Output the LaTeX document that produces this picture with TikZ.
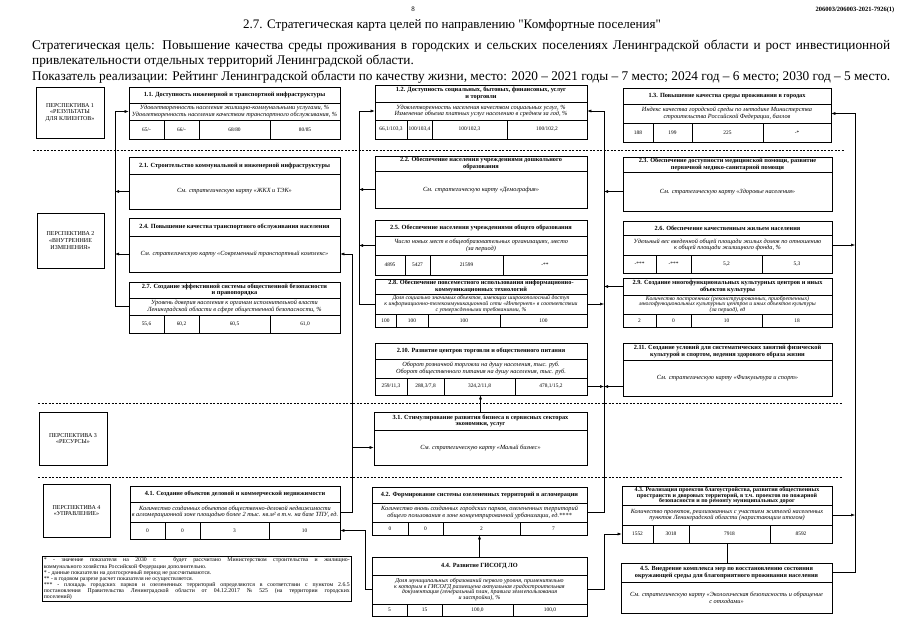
\documentclass[tikz,border=0pt]{standalone}
\usepackage{fontspec}
\setmainfont{Liberation Serif}
\newfontfamily\rawserif{Liberation Serif}
\usetikzlibrary{arrows.meta,fit,calc}

\begin{document}
\begin{tikzpicture}[
  x=1pt,y=-1pt,
  >={Latex[length=4pt,width=3pt]},
  goal/.style={draw,line width=0.6pt,inner sep=0pt},
  persp/.style={draw,line width=0.6pt,align=center,inner sep=0pt,font=\fontsize{6}{6.6}\selectfont},
  gtitle/.style={align=center,inner sep=0pt,font=\fontsize{6.3}{6.4}\selectfont\bfseries},
  gind/.style={align=center,inner sep=0pt,font=\fontsize{6.3}{6.2}\selectfont\itshape},
  gbody/.style={align=center,inner sep=0pt,font=\fontsize{6.3}{7}\selectfont\itshape},
  gval/.style={inner sep=0pt,font=\fontsize{5.4}{6}\selectfont},
  rowline/.style={line width=0.5pt},
  sepline/.style={line width=0.5pt,dash pattern=on 2pt off 1.5pt},
  link/.style={->,line width=0.5pt},
  plain/.style={line width=0.5pt}
]
\fill[white] (0,0) rectangle (905,640);
\useasboundingbox (0,0) rectangle (905,640);

% header
\node[font=\fontsize{7}{8}\selectfont] (pgno) at (413,9) {8};
\node[font=\fontsize{6.5}{7}\selectfont\bfseries] (docid) at (855,10) {206003/206003-2021-7926(1)};
\node[font=\fontsize{13}{14}\rawserif] (maptitle) at (452,25)
  {2.7. Стратегическая карта целей по направлению "Комфортные поселения"};
\node[anchor=west,inner sep=0pt,font=\fontsize{13.3}{15}\selectfont] (goal1) at (32,46)
  {\makebox[858pt][s]{Стратегическая цель: Повышение качества среды проживания в городских и сельских поселениях Ленинградской области и рост инвестиционной}};
\node[anchor=west,inner sep=0pt,font=\fontsize{13.3}{15}\selectfont] (goal2) at (32,61)
  {привлекательности отдельных территорий Ленинградской области.};
\node[anchor=west,inner sep=0pt,font=\fontsize{13.3}{15}\selectfont] (kpi) at (32,77)
  {\makebox[858pt][s]{Показатель реализации: Рейтинг Ленинградской области по качеству жизни, место: 2020 – 2021 годы – 7 место; 2024 год – 6 место; 2030 год – 5 место.}};

% perspectives
\node[persp,minimum width=68pt,minimum height=51pt] (p1) at (70,112.5) {ПЕРСПЕКТИВА 1\\«РЕЗУЛЬТАТЫ\\ДЛЯ КЛИЕНТОВ»};
\node[persp,minimum width=67pt,minimum height=55pt] (p2) at (70.5,240.5) {ПЕРСПЕКТИВА 2\\«ВНУТРЕННИЕ\\ИЗМЕНЕНИЯ»};
\node[persp,minimum width=68pt,minimum height=53pt] (p3) at (73,438.5) {ПЕРСПЕКТИВА 3\\«РЕСУРСЫ»};
\node[persp,minimum width=67pt,minimum height=53pt] (p4) at (76.5,510.5) {ПЕРСПЕКТИВА 4\\«УПРАВЛЕНИЕ»};

\draw[sepline] (33,150) -- (845,150);
\draw[sepline] (38,403) -- (842,403);
\draw[sepline] (38,477) -- (842,477);

% 1.1
\node[goal,fit={(129,87)(340,139)}] (g11) {};
\draw[rowline] (129,103) -- (340,103) (129,120) -- (340,120)
  (164,120) -- (164,139) (199,120) -- (199,139) (270,120) -- (270,139);
\node[gtitle] (g11t) at (234.5,95) {1.1. Доступность инженерной и транспортной инфраструктуры};
\node[gind] (g11i) at (234.5,111.5) {Удовлетворенность населения жилищно-коммунальными услугами, \%\\Удовлетворенность населения качеством транспортного обслуживания, \%};
\node[gval] (g11v1) at (146.5,129.5) {65/-};
\node[gval] (g11v2) at (181.5,129.5) {66/-};
\node[gval] (g11v3) at (234.5,129.5) {68/80};
\node[gval] (g11v4) at (305,129.5) {80/85};

% 1.2
\node[goal,fit={(375,85)(587,139)}] (g12) {};
\draw[rowline] (375,102) -- (587,102) (375,120) -- (587,120)
  (407,120) -- (407,139) (432,120) -- (432,139) (507,120) -- (507,139);
\node[gtitle] (g12t) at (481,93.5) {1.2. Доступность социальных, бытовых, финансовых, услуг\\и торговли};
\node[gind] (g12i) at (481,111) {Удовлетворенность населения качеством социальных услуг, \%\\Изменение объема платных услуг населению в среднем за год, \%};
\node[gval] (g12v1) at (391,129.5) {66,1/103,3};
\node[gval] (g12v2) at (419.5,129.5) {100/103,4};
\node[gval] (g12v3) at (469.5,129.5) {100/102,3};
\node[gval] (g12v4) at (547,129.5) {100/102,2};

% 1.3
\node[goal,fit={(623,88)(831,142)}] (g13) {};
\draw[rowline] (623,104) -- (831,104) (623,123) -- (831,123)
  (653,123) -- (653,142) (692,123) -- (692,142) (763,123) -- (763,142);
\node[gtitle] (g13t) at (727,96) {1.3. Повышение качества среды проживания в городах};
\node[gind] (g13i) at (727,113.5) {Индекс качества городской среды по методике Министерства\\строительства Российской Федерации, баллов};
\node[gval] (g13v1) at (638,132.5) {188};
\node[gval] (g13v2) at (672.5,132.5) {199};
\node[gval] (g13v3) at (727.5,132.5) {225};
\node[gval] (g13v4) at (797,132.5) {-*};

% 2.1
\node[goal,fit={(129,157)(340,209)}] (g21) {};
\draw[rowline] (129,174) -- (340,174);
\node[gtitle] (g21t) at (234.5,165.5) {2.1. Строительство коммунальной и инженерной инфраструктуры};
\node[gbody] (g21b) at (234.5,191.5) {См. стратегическую карту «ЖКХ и ТЭК»};

% 2.2
\node[goal,fit={(375,156)(587,208)}] (g22) {};
\draw[rowline] (375,171) -- (587,171);
\node[gtitle] (g22t) at (481,163.5) {2.2. Обеспечение населения учреждениями дошкольного\\образования};
\node[gbody] (g22b) at (481,189.5) {См. стратегическую карту «Демография»};

% 2.3
\node[goal,fit={(623,157)(832,211)}] (g23) {};
\draw[rowline] (623,172) -- (832,172);
\node[gtitle] (g23t) at (727.5,164.5) {2.3. Обеспечение доступности медицинской помощи, развитие\\первичной медико-санитарной помощи};
\node[gbody] (g23b) at (727.5,191.5) {См. стратегическую карту «Здоровье населения»};

% 2.4
\node[goal,fit={(129,218)(340,272)}] (g24) {};
\draw[rowline] (129,236) -- (340,236);
\node[gtitle] (g24t) at (234.5,227) {2.4. Повышение качества транспортного обслуживания населения};
\node[gbody] (g24b) at (234.5,254) {См. стратегическую карту «Современный транспортный комплекс»};

% 2.5
\node[goal,fit={(375,220)(587,275)}] (g25) {};
\draw[rowline] (375,236) -- (587,236) (375,255) -- (587,255)
  (405,255) -- (405,275) (430,255) -- (430,275) (503,255) -- (503,275);
\node[gtitle] (g25t) at (481,228) {2.5. Обеспечение населения учреждениями общего образования};
\node[gind] (g25i) at (481,245.5) {Число новых мест в общеобразовательных организациях, место\\(за период)};
\node[gval] (g25v1) at (390,265) {4895};
\node[gval] (g25v2) at (417.5,265) {5427};
\node[gval] (g25v3) at (466.5,265) {21599};
\node[gval] (g25v4) at (545,265) {-**};

% 2.6
\node[goal,fit={(623,221)(832,273)}] (g26) {};
\draw[rowline] (623,235) -- (832,235) (623,255) -- (832,255)
  (656,255) -- (656,273) (691,255) -- (691,273) (762,255) -- (762,273);
\node[gtitle] (g26t) at (727.5,228) {2.6. Обеспечение качественным жильем населения};
\node[gind] (g26i) at (727.5,245) {Удельный вес введенной общей площади жилых домов по отношению\\к общей площади жилищного фонда, \%};
\node[gval] (g26v1) at (639.5,264) {-***};
\node[gval] (g26v2) at (673.5,264) {-***};
\node[gval] (g26v3) at (726.5,264) {5,2};
\node[gval] (g26v4) at (797,264) {5,3};

% 2.7
\node[goal,fit={(129,282)(340,333)}] (g27) {};
\draw[rowline] (129,298) -- (340,298) (129,315) -- (340,315)
  (164,315) -- (164,333) (199,315) -- (199,333) (270,315) -- (270,333);
\node[gtitle] (g27t) at (234.5,290) {2.7. Создание эффективной системы общественной безопасности\\и правопорядка};
\node[gind] (g27i) at (234.5,306.5) {Уровень доверия населения к органам исполнительной власти\\Ленинградской области в сфере общественной безопасности, \%};
\node[gval] (g27v1) at (146.5,324) {55,6};
\node[gval] (g27v2) at (181.5,324) {60,2};
\node[gval] (g27v3) at (234.5,324) {60,5};
\node[gval] (g27v4) at (305,324) {61,0};

% 2.8
\node[goal,fit={(375,279)(587,327)}] (g28) {};
\draw[rowline] (375,294) -- (587,294) (375,314) -- (587,314)
  (396,314) -- (396,327) (428,314) -- (428,327) (500,314) -- (500,327);
\node[gtitle] (g28t) at (481,286.5) {2.8. Обеспечение повсеместного использования информационно-\\коммуникационных технологий};
\node[gind,font=\fontsize{5.8}{5.9}\selectfont\itshape] (g28i) at (481,304) {Доля социально значимых объектов, имеющих широкополосный доступ\\к информационно-телекоммуникационной сети «Интернет» в соответствии\\с утвержденными требованиями, \%};
\node[gval] (g28v1) at (385.5,320.5) {100};
\node[gval] (g28v2) at (412,320.5) {100};
\node[gval] (g28v3) at (464,320.5) {100};
\node[gval] (g28v4) at (543.5,320.5) {100};

% 2.9
\node[goal,fit={(623,278)(832,327)}] (g29) {};
\draw[rowline] (623,295) -- (832,295) (623,314) -- (832,314)
  (656,314) -- (656,327) (691,314) -- (691,327) (762,314) -- (762,327);
\node[gtitle] (g29t) at (727.5,286.5) {2.9. Создание многофункциональных культурных центров и иных\\объектов культуры};
\node[gind,font=\fontsize{5.8}{5.9}\selectfont\itshape] (g29i) at (727.5,304.5) {Количество построенных (реконструированных, приобретенных)\\многофункциональных культурных центров и иных объектов культуры\\(за период), ед};
\node[gval] (g29v1) at (639.5,320.5) {2};
\node[gval] (g29v2) at (673.5,320.5) {0};
\node[gval] (g29v3) at (726.5,320.5) {10};
\node[gval] (g29v4) at (797,320.5) {18};

% 2.10
\node[goal,fit={(375,343)(587,395)}] (g210) {};
\draw[rowline] (375,359) -- (587,359) (375,378) -- (587,378)
  (407,378) -- (407,395) (444,378) -- (444,395) (515,378) -- (515,395);
\node[gtitle] (g210t) at (481,351) {2.10. Развитие центров торговли и общественного питания};
\node[gind] (g210i) at (481,368.5) {Оборот розничной торговли на душу населения, тыс. руб.\\Оборот общественного питания на душу населения, тыс. руб.};
\node[gval] (g210v1) at (391,386.5) {259/11,3};
\node[gval] (g210v2) at (425.5,386.5) {288,3/7,8};
\node[gval] (g210v3) at (479.5,386.5) {324,2/11,8};
\node[gval] (g210v4) at (551,386.5) {478,1/15,2};

% 2.11
\node[goal,fit={(623,343)(832,396)}] (g211) {};
\draw[rowline] (623,360) -- (832,360);
\node[gtitle] (g211t) at (727.5,351.5) {2.11. Создание условий для систематических занятий физической\\культурой и спортом, ведения здорового образа жизни};
\node[gbody] (g211b) at (727.5,378) {См. стратегическую карту «Физкультура и спорт»};

% 3.1
\node[goal,fit={(374,412)(587,465)}] (g31) {};
\draw[rowline] (374,430) -- (587,430);
\node[gtitle] (g31t) at (480.5,421) {3.1. Стимулирование развития бизнеса в сервисных секторах\\экономики, услуг};
\node[gbody] (g31b) at (480.5,447.5) {См. стратегическую карту «Малый бизнес»};

% 4.1
\node[goal,fit={(130,486)(340,539)}] (g41) {};
\draw[rowline] (130,502) -- (340,502) (130,522) -- (340,522)
  (165,522) -- (165,539) (200,522) -- (200,539) (269,522) -- (269,539);
\node[gtitle] (g41t) at (235,494) {4.1. Создание объектов деловой и коммерческой недвижимости};
\node[gind] (g41i) at (235,512) {Количество созданных объектов общественно-деловой недвижимости\\в агломерационной зоне площадью более 2 тыс. кв.м² в т.ч. на базе ТПУ, ед.};
\node[gval] (g41v1) at (147.5,530.5) {0};
\node[gval] (g41v2) at (182.5,530.5) {0};
\node[gval] (g41v3) at (234.5,530.5) {3};
\node[gval] (g41v4) at (304.5,530.5) {10};

% 4.2
\node[goal,fit={(372,487)(587,535)}] (g42) {};
\draw[rowline] (372,503) -- (587,503) (372,522) -- (587,522)
  (408,522) -- (408,535) (443,522) -- (443,535) (520,522) -- (520,535);
\node[gtitle] (g42t) at (479.5,495) {4.2. Формирование системы озелененных территорий в агломерации};
\node[gind] (g42i) at (479.5,512.5) {Количество вновь созданных городских парков, озелененных территорий\\общего пользования в зоне концентрированной урбанизации, ед.****};
\node[gval] (g42v1) at (390,528.5) {0};
\node[gval] (g42v2) at (425.5,528.5) {0};
\node[gval] (g42v3) at (481.5,528.5) {2};
\node[gval] (g42v4) at (553.5,528.5) {7};

% 4.3
\node[goal,fit={(622,486)(832,543)}] (g43) {};
\draw[rowline] (622,505) -- (832,505) (622,525) -- (832,525)
  (653,525) -- (653,543) (689,525) -- (689,543) (770,525) -- (770,543);
\node[gtitle,font=\fontsize{6}{5.9}\selectfont\bfseries] (g43t) at (727,495.5) {4.3. Реализация проектов благоустройства, развития общественных\\пространств и дворовых территорий, в т.ч. проектов по пожарной\\безопасности и по ремонту муниципальных дорог};
\node[gind] (g43i) at (727,515) {Количество проектов, реализованных с участием жителей населенных\\пунктов Ленинградской области (нарастающим итогом)};
\node[gval] (g43v1) at (637.5,534) {1552};
\node[gval] (g43v2) at (671,534) {3018};
\node[gval] (g43v3) at (729.5,534) {7918};
\node[gval] (g43v4) at (801,534) {8592};

% 4.4
\node[goal,fit={(372,557)(587,616)}] (g44) {};
\draw[rowline] (372,575) -- (587,575) (372,604) -- (587,604)
  (407,604) -- (407,616) (442,604) -- (442,616) (513,604) -- (513,616);
\node[gtitle] (g44t) at (479.5,566) {4.4. Развитие ГИСОГД ЛО};
\node[gind,font=\fontsize{6}{5.9}\selectfont\itshape] (g44i) at (479.5,589.5) {Доля муниципальных образований первого уровня, применительно\\к которым в ГИСОГД размещена актуальная градостроительная\\документация (генеральный план, правила землепользования\\и застройки), \%};
\node[gval] (g44v1) at (389.5,610) {5};
\node[gval] (g44v2) at (424.5,610) {15};
\node[gval] (g44v3) at (477.5,610) {100,0};
\node[gval] (g44v4) at (550,610) {100,0};

% 4.5
\node[goal,fit={(621,563)(832,613)}] (g45) {};
\draw[rowline] (621,582) -- (832,582);
\node[gtitle] (g45t) at (726.5,572.5) {4.5. Внедрение комплекса мер по восстановлению состояния\\окружающей среды для благоприятного проживания населения};
\node[gbody] (g45b) at (726.5,597.5) {См. стратегическую карту «Экологическая безопасность и обращение\\с отходами»};

% footnotes
\node[draw,line width=0.6pt,anchor=north west,text width=306pt,inner sep=1.5pt,align=justify,
  font=\fontsize{5.8}{6.1}\selectfont] (notes) at (42,556)
  {* - значение показателя на 2030 г. будет рассчитано Министерством строительства и жилищно-\linebreak коммунального хозяйства Российской Федерации дополнительно.\\
   ** - данные показатели на долгосрочный период не рассчитываются.\\
   *** - в годовом разрезе расчет показателя не осуществляется.\\
   **** - площадь городских парков и озелененных территорий определяются в соответствии с пунктом 2.6.5\linebreak постановления Правительства Ленинградской области от 04.12.2017 № 525 (на территории городских\linebreak поселений)};

% trunks
\coordinate (tl) at (115,0);
\coordinate (tm) at (359,0);
\coordinate (tb) at (352,0);
\coordinate (tc) at (365,0);
\coordinate (tr) at (604,0);
\coordinate (tf) at (855,0);

\draw[link] (g27i -| g27.west) -- (g27i -| tl) |- (g11i -| g11.west);
\draw[link] (g21b -| g21.west) -- (g21b -| tl);
\draw[link] (g24b -| g24.west) -- (g24b -| tl);

\draw[link] (g28i -| g28.west) -- (g28i -| tm) |- (g12i -| g12.west);
\draw[link] (g22b -| g22.west) -- (g22b -| tm);
\draw[link] (g25i -| g25.west) -- (g25i -| tm);

\draw[link] (g41i -| g41.east) -- (g41i -| tb) |- (g24b -| g24.east);
\draw[link] (g31b -| tb) -- (g31b -| g31.west);
\draw[link] (g44i -| g44.west) -- (g44i -| tc) |- (g41v4 -| g41.east);

\draw[link] (g42i -| g42.east) -- (g42i -| tr) |- (g12i -| g12.east);
\draw[link] (g23b -| g23.west) -- (g23b -| tr);
\draw[link] (g28i -| g28.east) -- (g28i -| tr);
\draw[link] (g29t -| g29.west) -- (g29t -| tr);
\draw[link] (g210v4 -| g210.east) -- (g210v4 -| tr);
\draw[link] (g210v4 -| g211.west) -- (g210v4 -| tr);
\draw[link] (g44i -| g44.east) -- (g44i -| tr) |- (g43v1 -| g43.west);

\draw[link] (g45t -| g45.east) -- (g45t -| tf) |- (g13i -| g13.east);
\draw[link] (g26i -| g26.east) -- (g26i -| tf);
\draw[link] (g43i -| g43.east) -- (g43i -| tf);

\draw[link] (g31.north) -- (g31.north |- g210.south);
\draw[link] (g44.north) -- (g44.north |- g42.south);
\draw[plain] (g43.south) -- (g43.south |- g45.north);

\end{tikzpicture}
\end{document}
